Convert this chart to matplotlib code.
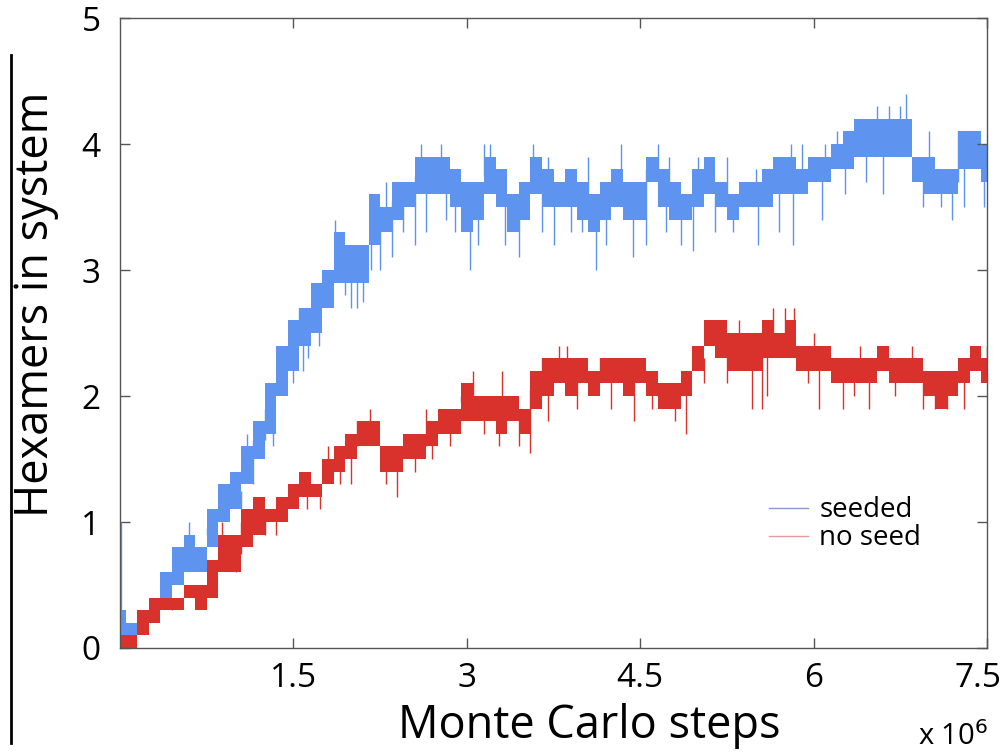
import numpy as np
import matplotlib.pyplot as plt
import matplotlib.transforms as mtransforms
from matplotlib.lines import Line2D

plt.rcParams['font.family'] = ['Open Sans', 'DejaVu Sans']

# Monte Carlo steps (x 10^6), one sample every 0.1e6 steps
steps = [i / 10 for i in range(76)]

# seeded run: bulk range of the fluctuating trace
seed_lo = [0.0, 0.0, 0.1, 0.2, 0.3, 0.5, 0.6, 0.6, 0.8, 1.0,
           1.1, 1.3, 1.5, 1.7, 2.0, 2.2, 2.4, 2.5, 2.7, 2.9,
           2.9, 2.9, 3.2, 3.3, 3.4, 3.5, 3.6, 3.6, 3.6, 3.5,
           3.3, 3.4, 3.6, 3.5, 3.3, 3.4, 3.6, 3.5, 3.5, 3.5,
           3.4, 3.3, 3.4, 3.5, 3.4, 3.4, 3.7, 3.5, 3.4, 3.4,
           3.5, 3.6, 3.5, 3.4, 3.5, 3.5, 3.5, 3.6, 3.6, 3.6,
           3.7, 3.7, 3.8, 3.8, 3.9, 3.9, 3.9, 3.9, 3.9, 3.7,
           3.6, 3.6, 3.6, 3.8, 3.8, 3.7]
seed_hi = [0.3, 0.2, 0.3, 0.4, 0.6, 0.8, 0.9, 0.8, 1.1, 1.3,
           1.4, 1.6, 1.8, 2.1, 2.4, 2.6, 2.7, 2.9, 3.0, 3.3,
           3.2, 3.2, 3.6, 3.5, 3.7, 3.7, 3.9, 3.9, 3.9, 3.8,
           3.7, 3.7, 3.9, 3.8, 3.6, 3.7, 3.9, 3.8, 3.7, 3.8,
           3.7, 3.6, 3.7, 3.8, 3.7, 3.7, 3.9, 3.8, 3.7, 3.6,
           3.8, 3.9, 3.7, 3.6, 3.7, 3.7, 3.8, 3.9, 3.9, 3.8,
           3.9, 3.9, 4.0, 4.1, 4.2, 4.2, 4.2, 4.2, 4.2, 3.9,
           3.9, 3.8, 3.8, 4.1, 4.1, 4.0]
seed_spike_x = [0.01, 0.1, 0.56, 0.6, 0.75, 0.92, 1.05, 1.1, 1.15, 1.25,
                1.32, 1.42, 1.5, 1.55, 1.58, 1.63, 1.72, 1.86, 1.95, 2.0,
                2.05, 2.1, 2.17, 2.25, 2.3, 2.35, 2.45, 2.55, 2.6, 2.65,
                2.78, 2.82, 2.9, 3.03, 3.1, 3.15, 3.2, 3.33, 3.45, 3.57,
                3.65, 3.7, 3.75, 3.9, 4.0, 4.05, 4.12, 4.2, 4.33, 4.44,
                4.55, 4.65, 4.72, 4.75, 4.85, 4.96, 5.0, 5.15, 5.25, 5.3,
                5.5, 5.52, 5.7, 5.8, 5.82, 5.9, 6.07, 6.1, 6.2, 6.27,
                6.45, 6.55, 6.6, 6.65, 6.75, 6.8, 6.95, 7.0, 7.1, 7.2,
                7.25, 7.3, 7.35, 7.45, 7.47]
seed_spike_y = [1.0, 0.2, 0.9, 1.0, 0.9, 1.3, 1.1, 1.7, 1.3, 1.9,
                1.6, 2.2, 2.1, 2.7, 2.2, 2.3, 2.4, 3.4, 2.8, 2.7,
                2.7, 2.75, 3.0, 3.0, 3.7, 3.1, 3.3, 3.2, 4.0, 3.3,
                4.0, 3.4, 3.3, 3.0, 3.2, 4.0, 4.0, 3.2, 3.1, 4.0,
                3.3, 3.9, 3.2, 3.3, 3.3, 3.9, 3.0, 3.2, 4.0, 3.1,
                3.2, 4.0, 3.3, 3.9, 3.2, 3.15, 3.9, 3.3, 3.9, 3.3,
                3.8, 3.2, 3.3, 4.0, 3.2, 4.0, 3.4, 4.0, 4.1, 3.6,
                3.7, 4.3, 3.6, 4.3, 4.3, 4.4, 3.5, 4.1, 3.5, 3.4,
                4.1, 3.5, 4.1, 4.0, 3.5]

# unseeded run
noseed_lo = [0.0, 0.0, 0.1, 0.2, 0.3, 0.3, 0.4, 0.3, 0.4, 0.6,
             0.6, 0.8, 0.9, 1.0, 1.0, 1.1, 1.2, 1.2, 1.3, 1.4,
             1.5, 1.6, 1.6, 1.4, 1.4, 1.5, 1.5, 1.6, 1.7, 1.7,
             1.8, 1.8, 1.8, 1.7, 1.8, 1.7, 1.9, 2.0, 2.1, 2.0,
             2.1, 2.0, 2.1, 2.1, 2.0, 2.1, 2.0, 1.9, 1.9, 2.0,
             2.2, 2.4, 2.3, 2.2, 2.2, 2.2, 2.3, 2.3, 2.3, 2.2,
             2.2, 2.2, 2.1, 2.1, 2.1, 2.1, 2.2, 2.1, 2.1, 2.1,
             2.0, 1.9, 2.0, 2.1, 2.2, 2.1]
noseed_hi = [0.1, 0.1, 0.3, 0.4, 0.4, 0.4, 0.5, 0.5, 0.7, 0.9,
             0.9, 1.1, 1.2, 1.1, 1.2, 1.3, 1.4, 1.3, 1.5, 1.6,
             1.7, 1.8, 1.8, 1.6, 1.6, 1.7, 1.7, 1.8, 1.9, 1.9,
             2.1, 2.0, 2.0, 2.0, 2.0, 1.9, 2.2, 2.3, 2.3, 2.3,
             2.3, 2.2, 2.3, 2.3, 2.3, 2.3, 2.2, 2.1, 2.1, 2.2,
             2.4, 2.6, 2.6, 2.5, 2.5, 2.5, 2.6, 2.5, 2.6, 2.4,
             2.4, 2.4, 2.3, 2.3, 2.3, 2.3, 2.4, 2.3, 2.3, 2.3,
             2.2, 2.2, 2.2, 2.3, 2.4, 2.3]
noseed_spike_x = [0.45, 0.88, 1.0, 1.05, 1.25, 1.35, 1.47, 1.62, 1.73, 1.8,
                  1.9, 2.0, 2.05, 2.16, 2.3, 2.4, 2.55, 2.65, 2.7, 2.85,
                  2.95, 3.05, 3.15, 3.28, 3.3, 3.45, 3.55, 3.65, 3.7, 3.8,
                  3.87, 3.95, 4.15, 4.25, 4.4, 4.45, 4.6, 4.8, 4.9, 5.05,
                  5.13, 5.2, 5.25, 5.35, 5.47, 5.55, 5.6, 5.65, 5.75, 5.83,
                  5.95, 6.0, 6.05, 6.25, 6.35, 6.4, 6.48, 6.7, 6.85, 6.95,
                  7.05, 7.15, 7.3, 7.4, 7.5]
noseed_spike_y = [0.3, 1.0, 0.6, 1.0, 0.9, 0.9, 1.3, 1.1, 1.1, 1.6,
                  1.3, 1.3, 1.8, 1.9, 1.3, 1.2, 1.4, 1.9, 1.5, 1.6,
                  2.0, 2.2, 1.7, 1.6, 2.2, 1.6, 1.55, 2.3, 1.8, 2.4,
                  2.4, 1.9, 2.3, 1.9, 2.3, 1.8, 1.9, 1.8, 1.7, 2.1,
                  2.6, 2.6, 2.1, 2.6, 1.9, 1.9, 2.0, 2.7, 2.7, 2.7,
                  2.1, 2.5, 1.9, 1.9, 2.0, 2.4, 1.9, 2.0, 2.4, 1.9,
                  1.9, 1.9, 1.9, 2.4, 2.4]

blue = '#5f93f0'
red = '#d9312b'

fig = plt.figure(figsize=(10.07, 7.52), dpi=100)
ax = fig.add_axes([0.1192, 0.1383, 0.8610, 0.8377])

x = np.array(steps) * 1e6
for lo, hi, sx, sy, col in [(seed_lo, seed_hi, seed_spike_x, seed_spike_y, blue),
                            (noseed_lo, noseed_hi, noseed_spike_x, noseed_spike_y, red)]:
    lo = np.array(lo)
    hi = np.array(hi)
    ax.fill_between(x, lo, hi, step='mid', color=col, lw=0)
    idx = np.clip(np.round(np.array(sx) * 10).astype(int), 0, len(x) - 1)
    base = (lo[idx] + hi[idx]) / 2
    ax.vlines(np.array(sx) * 1e6, base, sy, color=col, lw=1.0)

ax.set_xlim(0, 7.5e6)
ax.set_ylim(0, 5)
ax.set_xticks([1.5e6, 3e6, 4.5e6, 6e6, 7.5e6])
ax.set_xticklabels(['1.5', '3', '4.5', '6', '7.5'])
ax.set_yticks([0, 1, 2, 3, 4, 5])
ax.tick_params(direction='in', length=7, width=1, color='#555555',
               labelsize=24, top=True, right=True, pad=10)
ax.tick_params(axis='y', pad=14)
for s in ax.spines.values():
    s.set_color('#555555')
    s.set_linewidth(1)
# last x label sits a little left of its tick, inside the canvas
last = ax.get_xticklabels()[-1]
last.set_transform(last.get_transform() + mtransforms.ScaledTranslation(-0.09, 0, fig.dpi_scale_trans))

ax.set_xlabel('Monte Carlo steps', fontsize=32.5)
ax.xaxis.set_label_coords(0.541, -0.087)
ax.set_ylabel('Hexamers in system', fontsize=32.5)
ax.yaxis.set_label_coords(-0.07, 0.545)
fig.text(0.946, 0.0, r'x 10$^6$', fontsize=21, ha='center', va='bottom')

handles = [Line2D([], [], color='#8c98d0', lw=1.0), Line2D([], [], color='#e59a9a', lw=1.0)]
ax.legend(handles, ['seeded', 'no seed'], loc='lower left', bbox_to_anchor=(0.72, 0.112),
          frameon=False, fontsize=20, handlelength=1.4, handletextpad=0.4, labelspacing=0.0)

# stray vertical rule at the left edge of the figure
fig.add_artist(Line2D([0.0105, 0.0105], [0.012, 0.927], color='black', lw=2))

fig.savefig('out.png', dpi=100)
